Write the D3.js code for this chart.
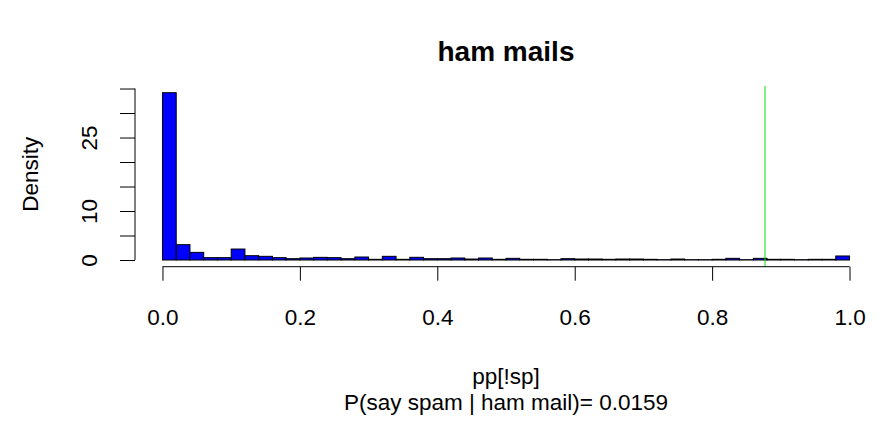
<!DOCTYPE html>
<html>
<head>
<meta charset="utf-8">
<script src="https://cdn.jsdelivr.net/npm/d3@7"></script>
<style>
  html, body { margin: 0; padding: 0; background: #fff; }
  svg { display: block; font-family: "Liberation Sans", Arial, Helvetica, sans-serif; }
</style>
</head>
<body>
<svg id="chart" width="878" height="425"></svg>
<script>
// ---- data ----
const binStart = 0, binWidth = 0.02;
const density = [34.15, 3.13, 1.56, 0.48, 0.48, 2.24, 0.88, 0.75, 0.48, 0.27,
                 0.41, 0.54, 0.48, 0.27, 0.61, 0.14, 0.75, 0.14, 0.55, 0.27,
                 0.27, 0.41, 0.20, 0.41, 0.14, 0.34, 0.14, 0.14, 0.07, 0.27,
                 0.20, 0.20, 0.14, 0.20, 0.20, 0.14, 0.07, 0.20, 0.07, 0.07,
                 0.14, 0.34, 0.07, 0.34, 0.14, 0.14, 0.07, 0.14, 0.14, 0.82];
const xTicks = [0, 0.2, 0.4, 0.6, 0.8, 1.0];
const yTicks = [0, 5, 10, 15, 20, 25, 30, 35];
const yLabelsShown = [0, 10, 25];
const threshold = 0.877;
const titleText = "ham mails";
const xLabelLines = ["pp[!sp]", "P(say spam | ham mail)= 0.0159"];
const yLabelText = "Density";

// ---- layout ----
const svg = d3.select("#chart");
const ymax = d3.max(density);
const x = d3.scaleLinear().domain([-0.04, 1.04]).range([135, 877]);
const y = d3.scaleLinear().domain([-0.04 * ymax, 1.04 * ymax]).range([266.7, 86]);

const bins = density.map((d, i) => ({ x0: binStart + i * binWidth, x1: binStart + (i + 1) * binWidth, v: d }));

// bars
svg.append("g").selectAll("rect").data(bins).join("rect")
  .attr("x", d => x(d.x0))
  .attr("y", d => y(d.v))
  .attr("width", d => x(d.x1) - x(d.x0))
  .attr("height", d => y(0) - y(d.v))
  .attr("fill", "#0000FF")
  .attr("stroke", "#000")
  .attr("stroke-width", 1);

// threshold line (clipped to plot region)
svg.append("line")
  .attr("x1", x(threshold)).attr("x2", x(threshold))
  .attr("y1", y.range()[1]).attr("y2", y.range()[0])
  .attr("stroke", "#00E000").attr("stroke-width", 1);

// x axis
const xAxis = svg.append("g").attr("transform", `translate(0,${y.range()[0]})`)
  .call(d3.axisBottom(x).tickValues(xTicks).tickFormat(d3.format(".1f")).tickSize(14));
xAxis.select(".domain").remove();
xAxis.append("line").attr("x1", x(xTicks[0])).attr("x2", x(xTicks[xTicks.length - 1]))
  .attr("stroke", "#000");
xAxis.selectAll(".tick line").attr("stroke", "#000");
xAxis.selectAll(".tick text").attr("y", 58).attr("dy", "0")
  .attr("font-size", 22.5).attr("fill", "#000").attr("font-family", "Liberation Sans, Arial, sans-serif");

// y axis
const yAxis = svg.append("g").attr("transform", `translate(${x.range()[0]},0)`)
  .call(d3.axisLeft(y).tickValues(yTicks)
    .tickFormat(d => yLabelsShown.includes(d) ? String(d) : "").tickSize(15));
yAxis.select(".domain").remove();
yAxis.append("line").attr("y1", y(yTicks[0])).attr("y2", y(yTicks[yTicks.length - 1]))
  .attr("stroke", "#000");
yAxis.selectAll(".tick line").attr("stroke", "#000");
yAxis.selectAll(".tick text")
  .attr("transform", "rotate(-90)")
  .attr("x", 0).attr("y", -38).attr("dy", "0")
  .attr("text-anchor", "middle")
  .attr("font-size", 22.5).attr("fill", "#000").attr("font-family", "Liberation Sans, Arial, sans-serif");

// title
const cx = (x.range()[0] + x.range()[1]) / 2;
svg.append("text").attr("x", cx).attr("y", 61).attr("text-anchor", "middle")
  .attr("font-size", 28).attr("font-weight", "bold").text(titleText);

// x label (two lines)
svg.append("g").selectAll("text").data(xLabelLines).join("text")
  .attr("x", cx).attr("y", (d, i) => 384 + i * 26).attr("text-anchor", "middle")
  .attr("font-size", 22.5).text(d => d);

// y label
svg.append("text").attr("transform", `translate(38,${(y(0) + y(35)) / 2}) rotate(-90)`)
  .attr("text-anchor", "middle").attr("font-size", 22.5).text(yLabelText);
</script>
</body>
</html>
